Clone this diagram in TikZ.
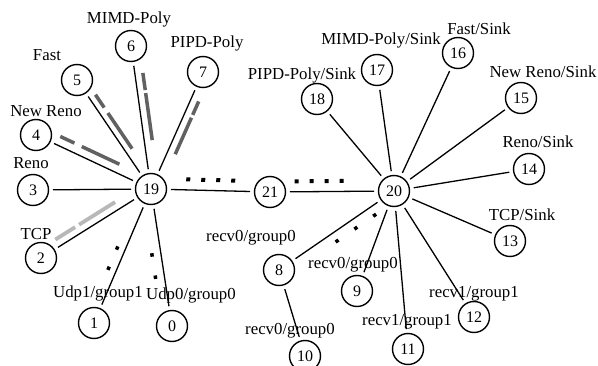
\documentclass[tikz,border=0pt]{standalone}
\usepackage{fontspec}
\setmainfont{Liberation Serif}
\usetikzlibrary{calc}
\definecolor{pktdark}{gray}{0.38}
\definecolor{pktlight}{gray}{0.72}
\newcommand{\pkt}[6]{\draw[#1] ($(#2)!#4!(#3)!#6:(#3)$) -- ($(#2)!#5!(#3)!#6:(#3)$);}

\begin{document}
\begin{tikzpicture}[x=1pt,y=-1pt,
  nd/.style={circle,draw,line width=1.4pt,minimum size=31pt,inner sep=0pt,outer sep=4.5pt,
    font=\fontsize{16}{16}\selectfont},
  lbl/.style={anchor=base,inner sep=0pt,font=\fontsize{16.8}{17}\selectfont},
  link/.style={line width=1.3pt},
  dark/.style={pktdark,line width=3.5pt},
  light/.style={pktlight,line width=3.8pt},
  sq/.style={black,line width=3.5pt,dash pattern=on 3.5pt off #1},
  sqbig/.style={black,line width=4pt,dash pattern=on 4pt off 11pt}]
\useasboundingbox (0,0) rectangle (598,366);

  % Nodes, left star
  \node[nd] (n19) at (151,189) {19};
  \node[nd] (n0) at (172,326) {0};
  \node[nd] (n1) at (94,323) {1};
  \node[nd] (n2) at (41,258) {2};
  \node[nd] (n3) at (33,190) {3};
  \node[nd] (n4) at (36,135) {4};
  \node[nd] (n5) at (77,80) {5};
  \node[nd] (n6) at (131,46) {6};
  \node[nd] (n7) at (203,72) {7};
  \node[nd] (n21) at (270,192) {21};

  % Nodes, right star
  \node[nd] (n20) at (394,191) {20};
  \node[nd] (n8) at (279,270) {8};
  \node[nd] (n9) at (357,291) {9};
  \node[nd] (n10) at (305,356) {10};
  \node[nd] (n11) at (408,349) {11};
  \node[nd] (n12) at (474,317) {12};
  \node[nd] (n13) at (510,241) {13};
  \node[nd] (n14) at (529,169) {14};
  \node[nd] (n15) at (521,98) {15};
  \node[nd] (n16) at (458,53) {16};
  \node[nd] (n17) at (377,70) {17};
  \node[nd] (n18) at (317,99) {18};

  % Labels
  \node[lbl] (l0) at (191,300) {Udp0/group0};
  \node[lbl] (l1) at (98,298) {Udp1/group1};
  \node[lbl] (l2) at (36,240) {TCP};
  \node[lbl] (l3) at (31,169) {Reno};
  \node[lbl] (l4) at (46,117) {New Reno};
  \node[lbl] (l5) at (47,61) {Fast};
  \node[lbl] (l6) at (129,24) {MIMD-Poly};
  \node[lbl] (l7) at (207,48) {PIPD-Poly};
  \node[lbl] (l8) at (251,242) {recv0/group0};
  \node[lbl] (l9) at (353,269) {recv0/group0};
  \node[lbl] (l10) at (290,335) {recv0/group0};
  \node[lbl] (l11) at (407,326) {recv1/group1};
  \node[lbl] (l12) at (474,298) {recv1/group1};
  \node[lbl] (l13) at (522,221) {TCP/Sink};
  \node[lbl] (l14) at (538,148) {Reno/Sink};
  \node[lbl] (l15) at (543,78) {New Reno/Sink};
  \node[lbl] (l16) at (479,35) {Fast/Sink};
  \node[lbl] (l17) at (381,45) {MIMD-Poly/Sink};
  \node[lbl] (l18) at (302,80) {PIPD-Poly/Sink};

  % Links
  \foreach \n in {0,1,2,3,4,5,6,7,21}
    \draw[link] (n19) -- (n\n);
  \foreach \n in {8,9,11,12,13,14,15,16,17,18,21}
    \draw[link] (n20) -- (n\n);
  \draw[link] (n8) -- (n10);

  % Packets on the links
  \pkt{dark}{n19}{n5}{0.334}{0.661}{7pt!-90}
  \pkt{dark}{n19}{n5}{0.711}{0.829}{7pt!-90}
  \pkt{dark}{n19}{n6}{0.334}{0.663}{8pt!-90}
  \pkt{dark}{n19}{n6}{0.684}{0.804}{8pt!-90}
  \pkt{dark}{n19}{n7}{0.325}{0.637}{8pt!-90}
  \pkt{dark}{n19}{n7}{0.661}{0.776}{8pt!-90}
  \pkt{dark}{n19}{n4}{0.308}{0.635}{9pt!-90}
  \pkt{dark}{n19}{n4}{0.699}{0.822}{9pt!-90}
  \pkt{light}{n19}{n2}{0.288}{0.615}{8pt!-90}
  \pkt{light}{n19}{n2}{0.651}{0.831}{8pt!-90}
  \pkt{sq=18.5pt}{n19}{n1}{0.452}{0.627}{8pt!-90}
  \pkt{sq=19pt}{n19}{n0}{0.459}{0.647}{9pt!-90}
  \pkt{sq=19.3pt}{n20}{n8}{0.2}{0.553}{9pt!90}
  \pkt{sqbig}{n19}{n21}{0.294}{0.706}{10.5pt!90}
  \pkt{sqbig}{n21}{n20}{0.2}{0.597}{10.5pt!90}
\end{tikzpicture}
\end{document}
